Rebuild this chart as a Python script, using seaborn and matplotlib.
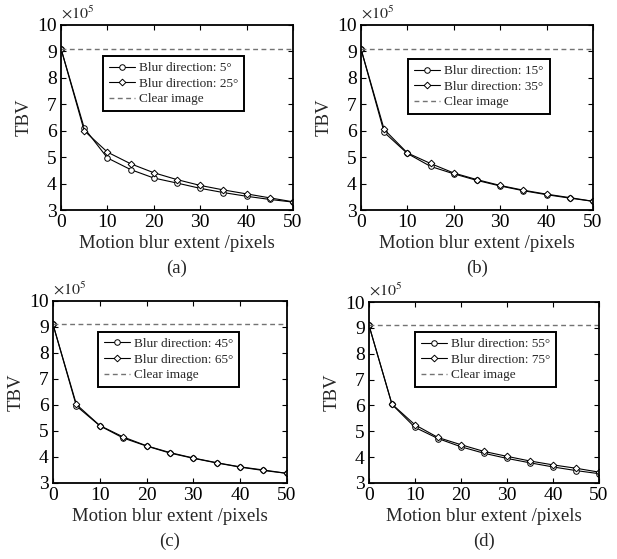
import numpy as np
import pandas as pd
import matplotlib
matplotlib.use("Agg")
import matplotlib.pyplot as plt
import seaborn as sns

# ---------------- data ----------------
blur_extent = [0, 5, 10, 15, 20, 25, 30, 35, 40, 45, 50]
clear_tbv = 9.1

# panel (a)
dir_5 = [9.1, 6.10, 4.97, 4.53, 4.21, 4.02, 3.82, 3.66, 3.52, 3.40, 3.30]
dir_25 = [9.1, 6.00, 5.19, 4.75, 4.41, 4.15, 3.93, 3.76, 3.61, 3.46, 3.31]
# panel (b)
dir_15 = [9.1, 5.94, 5.14, 4.65, 4.37, 4.12, 3.91, 3.73, 3.58, 3.45, 3.33]
dir_35 = [9.1, 6.05, 5.16, 4.76, 4.40, 4.15, 3.93, 3.75, 3.60, 3.47, 3.33]
# panel (c)
dir_45 = [9.1, 5.96, 5.20, 4.73, 4.42, 4.15, 3.95, 3.77, 3.61, 3.48, 3.37]
dir_65 = [9.1, 6.02, 5.21, 4.77, 4.43, 4.17, 3.96, 3.78, 3.62, 3.50, 3.37]
# panel (d)
dir_55 = [9.1, 6.04, 5.15, 4.72, 4.40, 4.15, 3.95, 3.78, 3.62, 3.48, 3.36]
dir_75 = [9.1, 6.05, 5.25, 4.76, 4.48, 4.22, 4.03, 3.85, 3.70, 3.57, 3.42]

panel_labels = ["(a)", "(b)", "(c)", "(d)"]
legend_labels = [
    ("Blur direction: 5°", "Blur direction: 25°"),
    ("Blur direction: 15°", "Blur direction: 35°"),
    ("Blur direction: 45°", "Blur direction: 65°"),
    ("Blur direction: 55°", "Blur direction: 75°"),
]
series = [(dir_5, dir_25), (dir_15, dir_35), (dir_45, dir_65), (dir_55, dir_75)]
clear_label = "Clear image"
xlabel = "Motion blur extent /pixels"
ylabel = "TBV"
yticks = [3, 4, 5, 6, 7, 8, 9, 10]
xticks = [0, 10, 20, 30, 40, 50]

# ---------------- style ----------------
sns.set_style("ticks")
plt.rcParams["font.family"] = ["Liberation Serif", "DejaVu Serif"]
plt.rcParams["mathtext.fontset"] = "stix"

fig = plt.figure(figsize=(6.17, 5.59), dpi=100)

positions = [
    [0.0989, 0.6243, 0.376, 0.331],
    [0.585, 0.6243, 0.376, 0.331],
    [0.0859, 0.1360, 0.379, 0.3256],
    [0.598, 0.1360, 0.3728, 0.3237],
]
legend_anchor = [(0.18, 0.832), (0.203, 0.816), (0.192, 0.83), (0.2, 0.834)]
caption_y = [268, 268, 541, 541]

for i in range(4):
    ax = fig.add_axes(positions[i])
    s1, s2 = series[i]
    l1, l2 = legend_labels[i]
    df = pd.DataFrame({"extent": blur_extent, "a": s1, "b": s2})
    sns.lineplot(data=df, x="extent", y="a", ax=ax, color="black", lw=0.8,
                 marker="o", markersize=4.0, markerfacecolor="white",
                 markeredgecolor="black", markeredgewidth=0.7, label=l1)
    sns.lineplot(data=df, x="extent", y="b", ax=ax, color="black", lw=0.8,
                 marker="D", markersize=3.4, markerfacecolor="white",
                 markeredgecolor="black", markeredgewidth=0.7, label=l2)
    ax.axhline(clear_tbv, color="0.45", lw=1.0, ls=(0, (3.5, 2.5)), label=clear_label)

    ax.set_xlim(0, 50)
    ax.set_ylim(3, 10)
    ax.set_xticks(xticks)
    ax.set_yticks(yticks)
    ax.tick_params(direction="in", length=3.5, width=0.8, top=True, right=True,
                   labelsize=14, pad=3, colors="black")
    for sp in ax.spines.values():
        sp.set_linewidth(1.3)
        sp.set_color("black")
    ax.set_xlabel(xlabel, fontsize=13.5, labelpad=3)
    ax.set_ylabel(ylabel, fontsize=13.5, labelpad=3)
    ax.text(0.0, 1.012, r"$\times10^5$", transform=ax.transAxes,
            fontsize=11.5, ha="left", va="bottom")

    leg = ax.legend(loc="upper left", bbox_to_anchor=legend_anchor[i],
                    borderaxespad=0, fancybox=False, framealpha=1,
                    edgecolor="black", fontsize=9.5, handlelength=2.0,
                    handletextpad=0.3, borderpad=0.45, labelspacing=0.25)
    leg.get_frame().set_linewidth(1.4)

    pos = positions[i]
    cx = pos[0] + pos[2] / 2
    fig.text(cx, 1 - caption_y[i] / 559, panel_labels[i], ha="center",
             va="center", fontsize=13.5)

fig.savefig("out.png", dpi=100)
